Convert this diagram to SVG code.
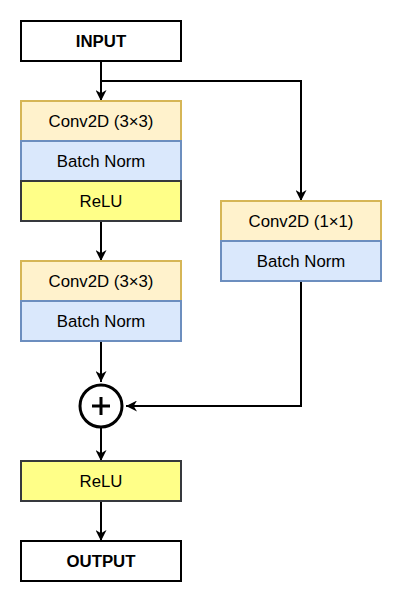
<svg xmlns="http://www.w3.org/2000/svg" width="402" height="602" viewBox="0 0 402 602">
<style>
text{font-family:"Liberation Sans",Arial,sans-serif;font-size:16.8px;fill:#000;text-anchor:middle;dominant-baseline:central}
.b{font-weight:bold}
.io{fill:#fff;stroke:#000;stroke-width:2}
.cv{fill:#fff2cc;stroke:#d6b656;stroke-width:2}
.bn{fill:#dae8fc;stroke:#6c8ebf;stroke-width:2}
.re{fill:#ffff88;stroke:#36393d;stroke-width:2}
.c{fill:none;stroke:#000;stroke-width:2}
</style>
<defs>
<marker id="ah" viewBox="0 0 10 10" refX="10" refY="5" markerWidth="5.5" markerHeight="5.5" orient="auto" markerUnits="strokeWidth">
<path d="M0,0 L10,5 L0,10 L3,5 Z" fill="#000"/>
</marker>
</defs>
<rect width="402" height="602" fill="#fff"/>
<g id="connectors">
<path class="c" d="M101,61 V101" marker-end="url(#ah)"/>
<path class="c" d="M101,81 H301 V201" marker-end="url(#ah)"/>
<path class="c" d="M101,221 V261" marker-end="url(#ah)"/>
<path class="c" d="M101,341 V382" marker-end="url(#ah)"/>
<path class="c" d="M301,281 V406 H126" marker-end="url(#ah)"/>
<path class="c" d="M101,428 V461" marker-end="url(#ah)"/>
<path class="c" d="M101,501 V541" marker-end="url(#ah)"/>
</g>
<g id="input"><rect class="io" x="21" y="21" width="160" height="40"/><text class="b" x="101" y="41">INPUT</text></g>
<g id="conv1"><rect class="cv" x="21" y="101" width="160" height="40"/><text x="101" y="121">Conv2D (3×3)</text></g>
<g id="bn1"><rect class="bn" x="21" y="141" width="160" height="40"/><text x="101" y="161">Batch Norm</text></g>
<g id="relu1"><rect class="re" x="21" y="181" width="160" height="40"/><text x="101" y="201">ReLU</text></g>
<g id="conv2"><rect class="cv" x="21" y="261" width="160" height="40"/><text x="101" y="281">Conv2D (3×3)</text></g>
<g id="bn2"><rect class="bn" x="21" y="301" width="160" height="40"/><text x="101" y="321">Batch Norm</text></g>
<g id="conv3"><rect class="cv" x="221" y="201" width="160" height="40"/><text x="301" y="221">Conv2D (1×1)</text></g>
<g id="bn3"><rect class="bn" x="221" y="241" width="160" height="40"/><text x="301" y="261">Batch Norm</text></g>
<g id="add"><circle cx="101" cy="406" r="21" fill="#fff" stroke="#000" stroke-width="3"/><path d="M92,406 H110 M101,397 V415" stroke="#000" stroke-width="3" fill="none"/></g>
<g id="relu2"><rect class="re" x="21" y="461" width="160" height="40"/><text x="101" y="481">ReLU</text></g>
<g id="output"><rect class="io" x="21" y="541" width="160" height="40"/><text class="b" x="101" y="561">OUTPUT</text></g>
</svg>
